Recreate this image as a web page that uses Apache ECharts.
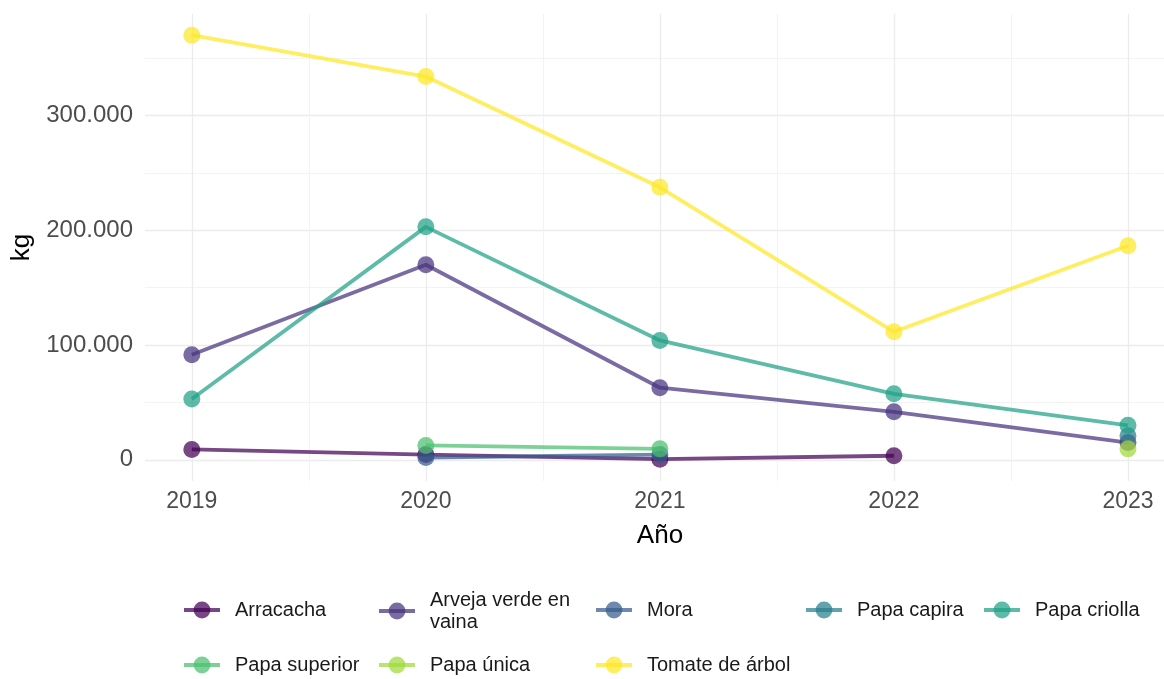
<!DOCTYPE html>
<html>
<head>
<meta charset="utf-8">
<script src="https://cdn.jsdelivr.net/npm/echarts@6/dist/echarts.min.js"></script>
<style>html,body{margin:0;padding:0;background:#fff}#c{width:1164px;height:679px}</style>
</head>
<body>
<div id="c"></div>
<script>
const years = [2019, 2020, 2021, 2022, 2023];
const seriesNames = ["Arracacha", "Arveja verde en vaina", "Mora", "Papa capira", "Papa criolla", "Papa superior", "Papa única", "Tomate de árbol"];
const arracacha = [9000, 4500, 500, 3500, null];
const arveja = [91500, 170000, 62800, 41800, 15000];
const mora = [null, 2000, 4500, null, null];
const papaCapira = [null, null, null, null, 21000];
const papaCriolla = [53000, 203000, 104000, 57500, 30000];
const papaSuperior = [null, 12500, 9500, null, null];
const papaUnica = [null, null, null, null, 9500];
const tomate = [370000, 334000, 237500, 111500, 186500];
const yTicks = [0, 100000, 200000, 300000];
const yMinor = [50000, 150000, 250000, 350000];
const xMinor = [2019.5, 2020.5, 2021.5, 2022.5];

const values = [arracacha, arveja, mora, papaCapira, papaCriolla, papaSuperior, papaUnica, tomate];
const colors = ["#440154", "#46337E", "#365C8D", "#277F8E", "#1FA187", "#4AC16D", "#9FDA3A", "#FDE725"];
const legendNames = ["Arracacha", "Arveja verde en\nvaina", "Mora", "Papa capira", "Papa criolla", "Papa superior", "Papa única", "Tomate de árbol"];
const FONT = "Liberation Sans";

const fmt = v => String(Math.round(v)).replace(/\B(?=(\d{3})+(?!\d))/g, ".");

const series = values.map((vals, i) => ({
  name: legendNames[i],
  type: "line",
  xAxisIndex: 0,
  yAxisIndex: 0,
  data: years.map((y, j) => [y, vals[j]]).filter(d => d[1] !== null),
  symbol: "circle",
  symbolSize: 17,
  showSymbol: true,
  color: colors[i],
  lineStyle: { width: 3.8, color: colors[i], opacity: 0.72 },
  itemStyle: { color: colors[i], opacity: 0.72 },
  emphasis: { disabled: true },
  animation: false,
  z: 2 + i
}));

const legendPos = [
  [182, 599], [377, 589], [594, 599], [804, 599], [982, 599],
  [182, 654], [377, 654], [594, 654]
];
const legends = legendNames.map((n, i) => ({
  data: [n],
  left: legendPos[i][0],
  top: legendPos[i][1],
  padding: 0,
  itemWidth: 36,
  itemHeight: 21,
  selectedMode: false,
  lineStyle: { width: 4 },
  textStyle: { fontFamily: FONT, fontSize: 20, color: "#1a1a1a", lineHeight: 22, padding: [0, 0, 0, 10] }
}));

const chart = echarts.init(document.getElementById("c"), null, { renderer: "canvas" });
chart.setOption({
  animation: false,
  backgroundColor: "#ffffff",
  grid: { left: 145, top: 14, right: 0, height: 467, containLabel: false },
  legend: legends,
  xAxis: [
    {
      type: "value", min: 2018.8, max: 2023.154,
      name: "Año", nameLocation: "middle", nameGap: 42,
      nameTextStyle: { fontFamily: FONT, fontSize: 26, color: "#000", padding: [0, 0, 0, 11] },
      axisLine: { show: false },
      axisTick: { show: false, customValues: years },
      axisLabel: { customValues: years, formatter: v => String(v), fontFamily: FONT, fontSize: 23, color: "#4d4d4d", margin: 9 },
      splitLine: { show: true, lineStyle: { color: "#ececec", width: 1.3 } },
      z: 0
    },
    {
      type: "value", min: 2018.8, max: 2023.154, position: "bottom",
      axisLine: { show: false },
      axisTick: { show: false, customValues: xMinor },
      axisLabel: { show: false, customValues: xMinor },
      splitLine: { show: true, lineStyle: { color: "#f3f3f3", width: 1 } },
      z: 0
    }
  ],
  yAxis: [
    {
      type: "value", min: -18500, max: 388500,
      name: "kg", nameLocation: "middle", nameGap: 110, nameRotate: 90,
      nameTextStyle: { fontFamily: FONT, fontSize: 26, color: "#000" },
      axisLine: { show: false },
      axisTick: { show: false, customValues: yTicks },
      axisLabel: { customValues: yTicks, formatter: fmt, fontFamily: FONT, fontSize: 24, color: "#4d4d4d", margin: 12 },
      splitLine: { show: true, lineStyle: { color: "#ececec", width: 1.3 } },
      z: 0
    },
    {
      type: "value", min: -18500, max: 388500, position: "left",
      axisLine: { show: false },
      axisTick: { show: false, customValues: yMinor },
      axisLabel: { show: false, customValues: yMinor },
      splitLine: { show: true, lineStyle: { color: "#f3f3f3", width: 1 } },
      z: 0
    }
  ],
  series: series
});
</script>
</body>
</html>
